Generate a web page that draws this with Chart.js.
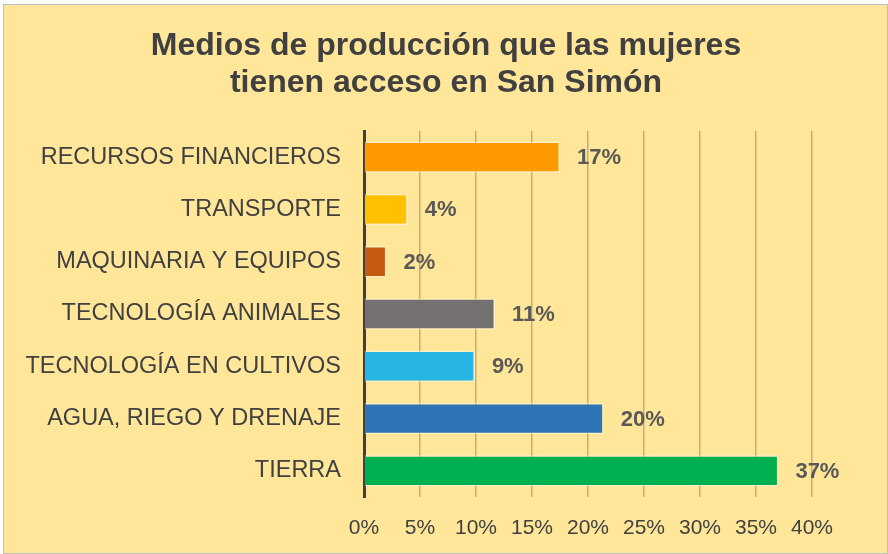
<!DOCTYPE html>
<html lang="es">

<head>
    <meta charset="UTF-8">
    <title>Medios de producción - San Simón</title>
    <script src="https://cdn.jsdelivr.net/npm/chart.js"></script>
    <style>
        * {
            margin: 0;
            padding: 0;
            box-sizing: border-box;
        }

        body {
            width: 888px;
            height: 554px;
            overflow: hidden;
            background: #fff;
        }

        .frame {
            position: absolute;
            left: 3px;
            top: 4px;
            width: 885px;
            height: 550px;
            border: 1px solid #bfbfbf;
            background-color: #ffe699;
        }

        canvas {
            position: absolute;
            left: 0;
            top: 0;
        }
    </style>
</head>

<body>
    <div class="frame"></div>
    <canvas id="barChart" width="888" height="554"></canvas>

    <script>
        // Data
        const categories = ['RECURSOS FINANCIEROS', 'TRANSPORTE', 'MAQUINARIA Y EQUIPOS', 'TECNOLOGÍA ANIMALES',
            'TECNOLOGÍA EN CULTIVOS', 'AGUA, RIEGO Y DRENAJE', 'TIERRA'];
        const values = [17.5, 3.9, 2.0, 11.7, 9.9, 21.4, 37.0];
        const valueLabels = ['17%', '4%', '2%', '11%', '9%', '20%', '37%'];
        const barColors = ['#ff9900', '#ffc000', '#c55a11', '#767171', '#27b6e3', '#2e75b6', '#00b050'];
        const xTicks = [0, 5, 10, 15, 20, 25, 30, 35, 40];
        const titleLines = ['Medios de producción que las mujeres', 'tienen acceso en San Simón'];

        const fontFamily = '"Liberation Sans", Arial, sans-serif';

        // title centred on the whole picture, not on the plot area
        const titlePlugin = {
            id: 'pageTitle',
            afterDraw(chart) {
                const ctx = chart.ctx;
                ctx.save();
                ctx.font = 'bold 32px ' + fontFamily;
                ctx.fillStyle = '#404040';
                ctx.textAlign = 'center';
                ctx.textBaseline = 'middle';
                titleLines.forEach((line, i) => {
                    ctx.fillText(line, chart.width / 2 + 2, 46 + i * 37);
                });
                ctx.restore();
            }
        };

        // draws the bold % labels right of each bar
        const valueLabelPlugin = {
            id: 'valueLabels',
            afterDatasetsDraw(chart) {
                const ctx = chart.ctx;
                const meta = chart.getDatasetMeta(0);
                ctx.save();
                ctx.font = 'bold 22px ' + fontFamily;
                ctx.fillStyle = '#595959';
                ctx.textAlign = 'left';
                ctx.textBaseline = 'middle';
                meta.data.forEach((bar, i) => {
                    ctx.fillText(valueLabels[i], bar.x + 17, bar.y + 1);
                });
                ctx.restore();
            }
        };

        const barCtx = document.getElementById('barChart').getContext('2d');
        const barChart = new Chart(barCtx, {
            type: 'bar',
            data: {
                labels: categories,
                datasets: [{
                    data: values,
                    backgroundColor: barColors,
                    borderColor: 'rgba(255, 255, 255, 0.45)',
                    borderWidth: 1.5,
                    barPercentage: 0.6,
                    categoryPercentage: 1.0
                }]
            },
            options: {
                indexAxis: 'y',
                responsive: false,
                animation: false,
                layout: {
                    padding: { left: 0, right: 76, top: 131, bottom: 0 }
                },
                scales: {
                    x: {
                        min: 0,
                        max: 40,
                        afterBuildTicks(scale) {
                            scale.ticks = xTicks.map(v => ({ value: v }));
                        },
                        afterFit(scale) {
                            scale.height = 57;
                        },
                        grid: {
                            color: '#c4ad72',
                            lineWidth: 1.5,
                            drawTicks: false
                        },
                        border: { display: false },
                        ticks: {
                            padding: 19,
                            color: '#404040',
                            font: { family: fontFamily, size: 21 },
                            callback: v => v + '%'
                        }
                    },
                    y: {
                        afterFit(scale) {
                            scale.width = 364;
                        },
                        grid: { display: false },
                        border: { display: true, color: '#404040', width: 3 },
                        ticks: {
                            padding: 15,
                            color: '#404040',
                            font: { family: fontFamily, size: 23.5 }
                        }
                    }
                },
                plugins: {
                    legend: { display: false },
                    tooltip: { enabled: false },
                    title: { display: false }
                }
            },
            plugins: [valueLabelPlugin, titlePlugin]
        });
    </script>
</body>

</html>
